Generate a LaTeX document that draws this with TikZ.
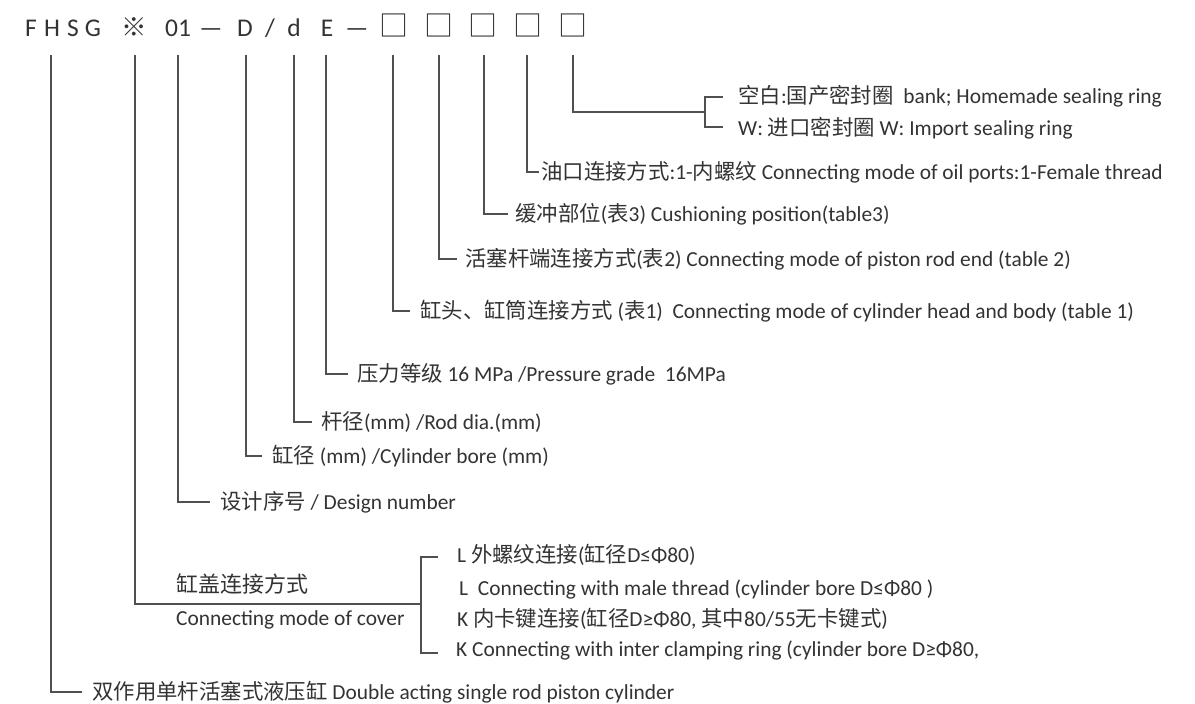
\documentclass[tikz,border=0pt]{standalone}
\usepackage{fontspec}
\setmainfont{Carlito}
\newfontfamily\cjk{Noto Sans CJK SC}
\newcommand\zh[1]{{\cjk #1}}
\definecolor{txt}{HTML}{333333}
\definecolor{lnc}{HTML}{505050}
\begin{document}
\begin{tikzpicture}[x=1pt,y=-1pt,
  ln/.style={draw=lnc, line width=1.3pt},
  lbl/.style={anchor=west, inner sep=0pt, text=txt, font=\fontsize{21.4}{25}\selectfont, text height=19pt, text depth=4.5pt},
  big/.style={lbl, font=\fontsize{22}{26}\selectfont},
  hd/.style={anchor=base, inner sep=0pt, text=txt, font=\fontsize{25.5}{28}\selectfont},
  bx/.style={anchor=center, inner sep=0pt, text=txt, font=\cjk\fontsize{29}{31}\selectfont}]
\useasboundingbox (0,0) rectangle (1195,704);
\fill[white] (0,0) rectangle (1195,704);

% header
\node[hd] (hF) at (31,36) {F};
\node[hd] (hH) at (52,36) {H};
\node[hd] (hS) at (73,36) {S};
\node[hd] (hG) at (93,36) {G};
\node[hd] (hX) at (134,36) {\zh{※}};
\node[hd] (h01) at (178,36) {01};
\node[hd] (hm1) at (211,36) {—};
\node[hd] (hD) at (245,36) {D};
\node[hd] (hsl) at (270,36) {/};
\node[hd] (hd) at (294,36) {d};
\node[hd] (hE) at (327,36) {E};
\node[hd] (hm2) at (357,36) {—};
\node[bx] (hb1) at (393.5,25.5) {□};
\node[bx] (hb2) at (439,25.5) {□};
\node[bx] (hb3) at (483,25.5) {□};
\node[bx] (hb4) at (528,25.5) {□};
\node[bx] (hb5) at (572.5,25.5) {□};

% line tops
\coordinate (vF) at (51,55);
\coordinate (vX) at (135,55);
\coordinate (v01) at (178,55);
\coordinate (vD) at (246,55);
\coordinate (vd) at (294,55);
\coordinate (vE) at (326,55);
\coordinate (v1) at (393,55);
\coordinate (v2) at (439,55);
\coordinate (v3) at (484,55);
\coordinate (v4) at (527,55);
\coordinate (v5) at (573,55);

% line ends
\coordinate (eF) at (82,692);
\coordinate (bM) at (421,604);
\coordinate (bT) at (438,557);
\coordinate (bB) at (438,653);
\coordinate (e01) at (210,502);
\coordinate (eD) at (262,456);
\coordinate (ed) at (312,422);
\coordinate (eE) at (348,374);
\coordinate (e1) at (410,311);
\coordinate (e2) at (457,259);
\coordinate (e3) at (508,214);
\coordinate (e4) at (539,172);
\coordinate (m5) at (705,112);
\coordinate (sT) at (723,97);
\coordinate (sB) at (723,127);

% connectors
\draw[ln] (vF) |- (eF);
\draw[ln] (vX) |- (bM);
\draw[ln] (bT) -| (bM) |- (bB);
\draw[ln] (v01) |- (e01);
\draw[ln] (vD) |- (eD);
\draw[ln] (vd) |- (ed);
\draw[ln] (vE) |- (eE);
\draw[ln] (v1) |- (e1);
\draw[ln] (v2) |- (e2);
\draw[ln] (v3) |- (e3);
\draw[ln] (v4) |- (e4);
\draw[ln] (v5) |- (m5);
\draw[ln] (sT) -| (m5) |- (sB);

% labels
\node[lbl] (s1) at (738,96) {\zh{空白}:\zh{国产密封圈}\ \ bank; Homemade sealing ring};
\node[lbl] (s2) at (738,128) {W: \zh{进口密封圈} W: Import sealing ring};
\node[lbl] (t4) at (541,172) {\zh{油口连接方式}:1-\zh{内螺纹} Connecting mode of oil ports:1-Female thread};
\node[lbl] (t3) at (515,214) {\zh{缓冲部位}(\zh{表}3) Cushioning position(table3)};
\node[lbl] (t2) at (465,259) {\zh{活塞杆端连接方式}(\zh{表}2) Connecting mode of piston rod end (table 2)};
\node[lbl] (t1) at (420,311) {\zh{缸头、缸筒连接方式} (\zh{表}1)\ \ Connecting mode of cylinder head and body (table 1)};
\node[lbl] (tE) at (357,374) {\zh{压力等级} 16 MPa /Pressure grade\ \ 16MPa};
\node[lbl] (td) at (321,422) {\zh{杆径}(mm) /Rod dia.(mm)};
\node[lbl] (tD) at (272,456) {\zh{缸径} (mm) /Cylinder bore (mm)};
\node[lbl] (t01) at (220,502) {\zh{设计序号} / Design number};
\node[big] (cv1) at (176,585) {\zh{缸盖连接方式}};
\node[lbl] (cv2) at (176,618) {Connecting mode of cover};
\node[lbl] (c1) at (457,555) {L \zh{外螺纹连接}(\zh{缸径}D≤Φ80)};
\node[lbl] (c2) at (459,588) {L\ \ Connecting with male thread (cylinder bore D≤Φ80 )};
\node[lbl] (c3) at (457,619) {K \zh{内卡键连接}(\zh{缸径}D≥Φ80, \zh{其中}80/55\zh{无卡键式})};
\node[lbl] (c4) at (456,649) {K Connecting with inter clamping ring (cylinder bore D≥Φ80,};
\node[lbl] (tF) at (92,692) {\zh{双作用单杆活塞式液压缸} Double acting single rod piston cylinder};
\end{tikzpicture}
\end{document}
